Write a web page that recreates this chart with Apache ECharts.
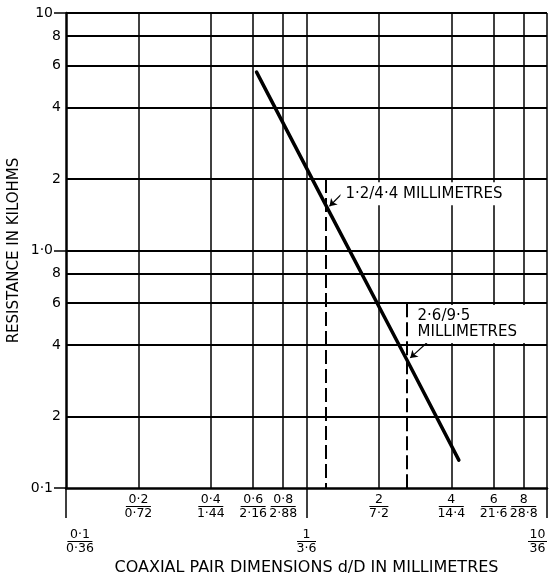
<!DOCTYPE html>
<html><head><meta charset="utf-8">
<script src="https://cdn.jsdelivr.net/npm/echarts@6/dist/echarts.min.js"></script>
<style>html,body{margin:0;padding:0;background:#fff}#c{width:554px;height:576px}</style>
</head><body><div id="c"></div>
<script>
// Resistance line (d in mm, resistance in kilohms)
const lineD = [0.62, 1.2, 2.6, 4.3];
const lineR = [5.64, 1.56, 0.35, 0.131];

// Y-axis tick labels
const yTickValues = [0.1, 0.2, 0.4, 0.6, 0.8, 1, 2, 4, 6, 8, 10];
const yTickLabels = ['0·1', '2', '4', '6', '8', '1·0', '2', '4', '6', '8', '10'];
const yDecades = [0.1, 1, 10];

// X-axis tick labels (d / D)
const xUpperValues = [0.2, 0.4, 0.6, 0.8, 2, 4, 6, 8];
const xUpperNum = ['0·2', '0·4', '0·6', '0·8', '2', '4', '6', '8'];
const xUpperDen = ['0·72', '1·44', '2·16', '2·88', '7·2', '14·4', '21·6', '28·8'];
const xLowerValues = [0.1, 1, 10];
const xLowerNum = ['0·1', '1', '10'];
const xLowerDen = ['0·36', '3·6', '36'];

// Grid lines
const hGrid = [0.2, 0.4, 0.6, 0.8, 1, 2, 4, 6, 8, 10];
const vGrid = [0.2, 0.4, 0.6, 0.8, 1, 2, 4, 6, 8, 10];

// Marked pairs (dashed guides)
const guideD = [1.2, 2.6];
const guideTop = [2, 0.6];
const guideLabels = ['1·2/4·4 MILLIMETRES', '2·6/9·5\nMILLIMETRES'];

const FONT = 'DejaVu Sans';
function idxOf(arr, v) {
  for (let i = 0; i < arr.length; i++) {
    if (Math.abs(Math.log10(arr[i]) - Math.log10(v)) < 1e-6) return i;
  }
  return -1;
}
function barStyle(w) {
  return { borderColor: '#000', borderWidth: 1.2, width: w, height: 0, align: 'center' };
}
const fracRich = {
  n: { fontFamily: FONT, fontSize: 12.5, lineHeight: 13.5, color: '#000', align: 'center' },
  h1: barStyle(10), h2: barStyle(19), h3: barStyle(25), h4: barStyle(31)
};
function frac(num, den) {
  const len = Math.max(num.replace('·', '').length, den.replace('·', '').length);
  return '{n|' + num + '}\n{h' + len + '|}\n{n|' + den + '}';
}

const chart = echarts.init(document.getElementById('c'), null, { renderer: 'canvas' });
const option = {
  animation: false,
  backgroundColor: '#fff',
  grid: { left: 66, right: 7, top: 13, bottom: 88, outerBoundsMode: 'none', containLabel: false },
  xAxis: [
    {
      type: 'log', logBase: 10, min: 0.1, max: 10,
      name: 'COAXIAL PAIR DIMENSIONS d/D IN MILLIMETRES',
      nameLocation: 'middle', nameGap: 72, nameMoveOverlap: false,
      nameTextStyle: { fontFamily: FONT, fontSize: 16, color: '#000' },
      axisLine: { show: true, lineStyle: { color: '#000', width: 2.5 } },
      axisTick: { show: false },
      splitLine: { show: false },
      axisLabel: {
        show: true, margin: 5, customValues: xUpperValues, interval: 0, hideOverlap: false,
        showMinLabel: true, showMaxLabel: true,
        formatter: function (v) {
          const i = idxOf(xUpperValues, v);
          if (i < 0) return '';
          return frac(xUpperNum[i], xUpperDen[i]);
        },
        rich: fracRich
      }
    },
    {
      type: 'log', logBase: 10, min: 0.1, max: 10, position: 'bottom',
      axisLine: { show: false },
      axisTick: { show: true, length: 30, lineStyle: { color: '#000', width: 1.5 } },
      splitLine: { show: false },
      axisLabel: {
        show: true, margin: 40, customValues: xLowerValues, interval: 0, hideOverlap: false,
        alignMinLabel: 'left', alignMaxLabel: 'right',
        showMinLabel: true, showMaxLabel: true,
        formatter: function (v) {
          const i = idxOf(xLowerValues, v);
          if (i < 0) return '';
          return frac(xLowerNum[i], xLowerDen[i]);
        },
        rich: fracRich
      }
    }
  ],
  yAxis: {
    type: 'log', logBase: 10, min: 0.1, max: 10,
    name: 'RESISTANCE IN KILOHMS', nameLocation: 'middle', nameGap: 44, nameMoveOverlap: false,
    nameTextStyle: { fontFamily: FONT, fontSize: 15, color: '#000' },
    axisLine: { show: true, lineStyle: { color: '#000', width: 2.5 } },
    axisTick: { show: true, length: 12, lineStyle: { color: '#000', width: 1.5 } },
    splitLine: { show: false },
    axisLabel: {
      show: true, margin: 5, customValues: yTickValues, interval: 0, hideOverlap: false,
      showMinLabel: true, showMaxLabel: true,
      formatter: function (v) {
        const i = idxOf(yTickValues, v);
        if (i < 0) return '';
        return (idxOf(yDecades, v) >= 0 ? '{d|' : '{m|') + yTickLabels[i] + '}';
      },
      rich: {
        d: { fontFamily: FONT, fontSize: 14, color: '#000', padding: [0, 8, 0, 0] },
        m: { fontFamily: FONT, fontSize: 14, color: '#000' }
      }
    }
  },
  series: [
    {
      name: 'grid', type: 'line', data: [], z: 1, silent: true,
      markLine: {
        silent: true, symbol: ['none', 'none'], label: { show: false },
        animation: false,
        data: hGrid.map(v => ({ yAxis: v, lineStyle: { color: '#000', width: 2, type: 'solid' } }))
          .concat(vGrid.map(v => ({ xAxis: v, lineStyle: { color: '#000', width: 1.5, type: 'solid' } })))
      }
    },
    {
      name: 'guides', type: 'line', data: [], z: 2, silent: true,
      markLine: {
        silent: true, symbol: ['none', 'none'], label: { show: false }, animation: false,
        lineStyle: { color: '#000', width: 2, type: [14, 5] },
        data: guideD.map((d, i) => [{ coord: [d, guideTop[i]] }, { coord: [d, 0.1] }])
      }
    },
    {
      name: 'Resistance', type: 'line', z: 5,
      data: lineD.map((d, i) => [d, lineR[i]]),
      symbol: 'none', clip: true,
      lineStyle: { color: '#000', width: 3.5, cap: 'round' }
    },
    {
      name: 'labels', type: 'line', data: [], z: 4, silent: true,
      markLine: {
        silent: true, symbol: ['none', 'arrow'], symbolSize: 7, label: { show: false }, animation: false,
        lineStyle: { color: '#000', width: 1.2, type: 'solid' },
        data: [
          [{ coord: [1.438, 1.778] }, { coord: [1.246, 1.536] }],
          [{ coord: [3.33, 0.428] }, { coord: [2.70, 0.353] }]
        ]
      },
      markPoint: {
        silent: true, symbol: 'circle', symbolSize: 0, animation: false,
        data: [
          {
            coord: [1.384, 1.735],
            label: {
              show: true, position: 'right', distance: 0, formatter: guideLabels[0],
              fontFamily: FONT, fontSize: 15, lineHeight: 16, color: '#000',
              backgroundColor: '#fff', padding: [4, 12, 3, 5]
            }
          },
          {
            coord: [2.76, 0.49],
            label: {
              show: true, position: 'right', distance: 0, formatter: guideLabels[1],
              fontFamily: FONT, fontSize: 15, lineHeight: 16, color: '#000', align: 'left',
              backgroundColor: '#fff', padding: [2, 14, 4, 5]
            }
          }
        ]
      }
    }
  ]
};
chart.setOption(option);
</script>
</body></html>
